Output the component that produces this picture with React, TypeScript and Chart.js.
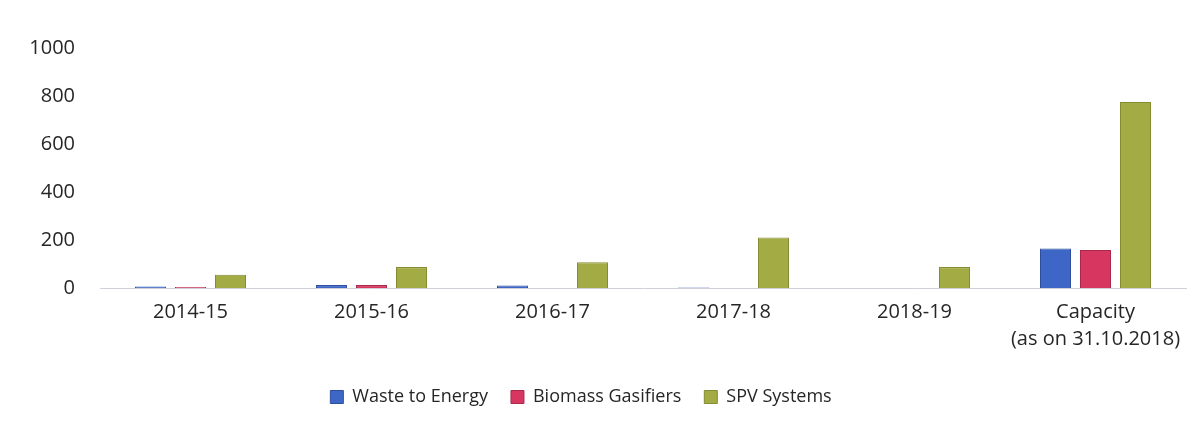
import React, { useEffect, useRef } from "react";
import { Chart, registerables } from "chart.js";

Chart.register(...registerables);

const categories: (string | string[])[] = [
  "2014-15",
  "2015-16",
  "2016-17",
  "2017-18",
  "2018-19",
  ["Capacity", "(as on 31.10.2018)"],
];
const wasteToEnergy = [6, 12, 10, 2, 0, 165];
const biomassGasifiers = [4, 12, 0, 0, 0, 158];
const spvSystems = [55, 87, 107, 210, 87, 775];
const yMin = 0;
const yMax = 1000;
const yStep = 200;

const FONT = "'Open Sans', 'DejaVu Sans', sans-serif";
const TEXT = "#262626";

const legendShift = {
  id: "legendShift",
  afterLayout(chart: any) {
    const lg = chart.legend;
    if (!lg) return;
    lg.left -= 16;
    lg.right -= 16;
    lg.top += 1;
    lg.bottom += 1;
  },
};

export default function App() {
  const ref = useRef<HTMLCanvasElement | null>(null);

  useEffect(() => {
    const canvas = ref.current;
    if (!canvas) return;
    const chart = new Chart(canvas, {
      type: "bar",
      data: {
        labels: categories as any,
        datasets: [
          {
            label: "Waste to Energy",
            data: wasteToEnergy,
            backgroundColor: "#3d66c6",
            borderColor: "#2f4f9e",
            borderWidth: 1,
          },
          {
            label: "Biomass Gasifiers",
            data: biomassGasifiers,
            backgroundColor: "#d63660",
            borderColor: "#a8294a",
            borderWidth: 1,
          },
          {
            label: "SPV Systems",
            data: spvSystems,
            backgroundColor: "#a3ab44",
            borderColor: "#858c33",
            borderWidth: 1,
          },
        ],
      },
      plugins: [legendShift],
      options: {
        responsive: false,
        animation: false,
        devicePixelRatio: 1,
        layout: { padding: { left: 8, right: 15, top: 48, bottom: 20 } },
        datasets: {
          bar: { categoryPercentage: 0.663, barPercentage: 0.775 },
        },
        plugins: {
          tooltip: { enabled: false },
          legend: {
            position: "bottom",
            labels: {
              color: TEXT,
              font: { family: FONT, size: 18 },
              boxWidth: 13,
              boxHeight: 13,
              padding: 23,
            },
          },
        },
        scales: {
          x: {
            grid: { display: false, drawTicks: false },
            border: { display: true, color: "#cfd0dc", dash: [3, 2] },
            ticks: {
              color: TEXT,
              font: { family: FONT, size: 20, lineHeight: 1.35 },
              padding: 11,
              maxRotation: 0,
              autoSkip: false,
            },
          },
          y: {
            min: yMin,
            max: yMax,
            grid: { display: false, drawTicks: false },
            border: { display: false },
            ticks: {
              stepSize: yStep,
              color: TEXT,
              font: { family: FONT, size: 20 },
              padding: 25,
              callback: (v: any) => String(v),
            },
            afterFit: (s: any) => {
              s.width = 92;
            },
          },
        },
      },
    });
    return () => chart.destroy();
  }, []);

  return (
    <div style={{ position: "absolute", left: 0, top: 0, width: 1201, height: 435, background: "#ffffff" }}>
      <canvas ref={ref} width={1201} height={435} style={{ display: "block" }} />
    </div>
  );
}
